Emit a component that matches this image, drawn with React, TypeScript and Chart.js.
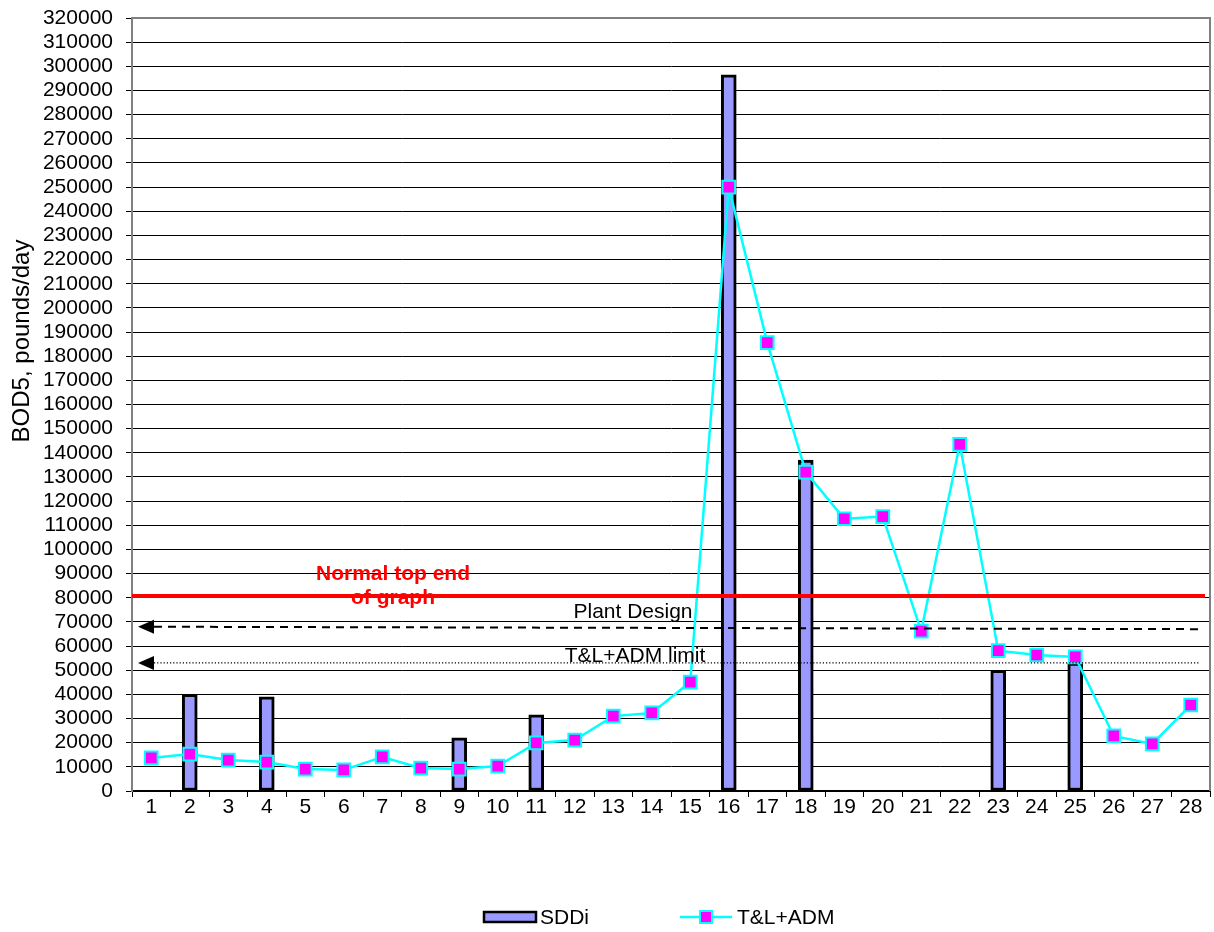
import React, { useEffect, useRef } from "react";
import { Chart, registerables } from "chart.js";

Chart.register(...registerables);

const categories = ["1","2","3","4","5","6","7","8","9","10","11","12","13","14","15","16","17","18","19","20","21","22","23","24","25","26","27","28"];

const sddiValues = [null, 40000, null, 39000, null, null, null, null, 22000, null, 31500, null, null, null, null, 296500, null, 137000, null, null, null, null, 50000, null, 53000, null, null, null];

const tlAdmValues = [13700, 15300, 12800, 12000, 9100, 8700, 14100, 9500, 9100, 10300, 19900, 21100, 31000, 32300, 45100, 250000, 185600, 132000, 112700, 113600, 66200, 143500, 58100, 56300, 55500, 22800, 19500, 35600];

const yMin = 0;
const yMax = 320000;
const yStep = 10000;

const normalTopValue = 80700;
const plantDesignLeftValue = 68000;
const plantDesignRightValue = 67000;
const tlAdmLimitValue = 53000;

const normalTopLabel = ["Normal top end", "of graph"];
const plantDesignLabel = "Plant Design";
const tlAdmLimitLabel = "T&L+ADM limit";
const yAxisTitle = "BOD5, pounds/day";

const FONT = "'Liberation Sans', Arial, sans-serif";
const FS = 21;

const noPadding = () => ({ left: 0, top: 0, right: 0, bottom: 0 });

const annotationPlugin = {
  id: "annotations",
  afterDraw(chart: any) {
    const ctx = chart.ctx;
    const ca = chart.chartArea;
    const y = chart.scales.y;
    ctx.save();

    // plot border (top/right)
    ctx.strokeStyle = "#808080";
    ctx.lineWidth = 2;
    ctx.beginPath();
    ctx.moveTo(ca.left, ca.top);
    ctx.lineTo(ca.right, ca.top);
    ctx.lineTo(ca.right, ca.bottom);
    ctx.stroke();

    // red normal top line
    const yr = y.getPixelForValue(normalTopValue);
    ctx.strokeStyle = "#FF0000";
    ctx.lineWidth = 4;
    ctx.beginPath();
    ctx.moveTo(ca.left, yr);
    ctx.lineTo(ca.right - 5, yr);
    ctx.stroke();

    // plant design dashed line
    const ypl = y.getPixelForValue(plantDesignLeftValue);
    const ypr = y.getPixelForValue(plantDesignRightValue);
    ctx.strokeStyle = "#000";
    ctx.lineWidth = 2;
    ctx.setLineDash([8, 6]);
    ctx.beginPath();
    ctx.moveTo(ca.left + 22, ypl);
    ctx.lineTo(ca.right - 10, ypr);
    ctx.stroke();

    // dotted limit
    const yl = y.getPixelForValue(tlAdmLimitValue);
    ctx.lineWidth = 1.2;
    ctx.setLineDash([1.2, 2]);
    ctx.beginPath();
    ctx.moveTo(ca.left + 22, yl);
    ctx.lineTo(ca.right - 10, yl);
    ctx.stroke();
    ctx.setLineDash([]);

    // arrows
    const arrow = (yy: number) => {
      ctx.fillStyle = "#000";
      ctx.beginPath();
      ctx.moveTo(ca.left + 6, yy);
      ctx.lineTo(ca.left + 22, yy - 7);
      ctx.lineTo(ca.left + 22, yy + 7);
      ctx.closePath();
      ctx.fill();
    };
    arrow(ypl);
    arrow(yl);

    // texts
    ctx.fillStyle = "#000";
    ctx.font = `${FS}px ${FONT}`;
    ctx.textAlign = "center";
    ctx.textBaseline = "alphabetic";
    ctx.fillText(plantDesignLabel, 633, ypl - 9);
    ctx.fillText(tlAdmLimitLabel, 635, yl - 1);

    ctx.fillStyle = "#FF0000";
    ctx.font = `bold ${FS}px ${FONT}`;
    ctx.textBaseline = "middle";
    ctx.fillText(normalTopLabel[0], 393, yr - 22);
    ctx.fillText(normalTopLabel[1], 393, yr + 2);

    // y title
    ctx.save();
    ctx.fillStyle = "#000";
    ctx.font = `24px ${FONT}`;
    ctx.translate(22, 341);
    ctx.rotate(-Math.PI / 2);
    ctx.textAlign = "center";
    ctx.textBaseline = "middle";
    ctx.fillText(yAxisTitle, 0, 0);
    ctx.restore();

    // legend
    const ly = 917;
    const bar = chart.data.datasets[1];
    const line = chart.data.datasets[0];
    ctx.fillStyle = bar.backgroundColor;
    ctx.fillRect(484, ly - 5, 52, 10);
    ctx.strokeStyle = "#000";
    ctx.lineWidth = 2.5;
    ctx.strokeRect(484, ly - 5, 52, 10);
    ctx.fillStyle = "#000";
    ctx.font = `${FS}px ${FONT}`;
    ctx.textAlign = "left";
    ctx.textBaseline = "middle";
    ctx.fillText(bar.label, 540, ly + 1);

    ctx.strokeStyle = line.borderColor;
    ctx.lineWidth = 2.5;
    ctx.beginPath();
    ctx.moveTo(680, ly);
    ctx.lineTo(732, ly);
    ctx.stroke();
    ctx.fillStyle = line.pointBackgroundColor;
    ctx.fillRect(700, ly - 6, 12, 12);
    ctx.strokeStyle = line.pointBorderColor;
    ctx.lineWidth = 2;
    ctx.strokeRect(700, ly - 6, 12, 12);
    ctx.fillStyle = "#000";
    ctx.fillText(line.label, 737, ly + 1);

    ctx.restore();
  },
};

export default function App() {
  const ref = useRef<HTMLCanvasElement>(null);

  useEffect(() => {
    document.body.style.margin = "0";
    const canvas = ref.current;
    if (!canvas) return;
    const chart = new Chart(canvas, {
      type: "bar",
      data: {
        labels: categories,
        datasets: [
          {
            type: "line",
            label: "T&L+ADM",
            data: tlAdmValues,
            borderColor: "#00FFFF",
            borderWidth: 2.5,
            backgroundColor: "#FF00FF",
            pointStyle: "rect",
            pointRadius: 9,
            pointBackgroundColor: "#FF00FF",
            pointBorderColor: "#00FFFF",
            pointBorderWidth: 2,
            tension: 0,
            order: 0,
          } as any,
          {
            type: "bar",
            label: "SDDi",
            data: sddiValues,
            backgroundColor: "#9999FF",
            borderColor: "#000000",
            borderWidth: 3,
            borderSkipped: false,
            barThickness: 15,
            order: 1,
          } as any,
        ],
      },
      options: {
        responsive: false,
        animation: false,
        devicePixelRatio: 1,
        layout: { autoPadding: false, padding: { left: 0, top: 18, right: 4, bottom: 0 } },
        plugins: {
          legend: { display: false },
          tooltip: { enabled: false },
          title: { display: false },
        },
        scales: {
          x: {
            offset: true,
            grid: {
              display: true,
              drawOnChartArea: false,
              drawTicks: true,
              tickLength: 6,
              color: "#000",
              offset: true,
            },
            border: { display: true, color: "#000", width: 2 },
            ticks: {
              color: "#000",
              font: { size: FS, family: FONT },
              padding: -2,
              autoSkip: false,
              maxRotation: 0,
            },
            afterFit: (scale: any) => {
              scale.height = 141;
              scale.paddingLeft = 0;
              scale.paddingRight = 0;
              scale.getPadding = noPadding;
            },
          },
          y: {
            min: yMin,
            max: yMax,
            grid: {
              color: "#000",
              lineWidth: 1,
              tickLength: 6,
              drawTicks: true,
            },
            border: { display: true, color: "#808080", width: 2 },
            ticks: {
              stepSize: yStep,
              autoSkip: false,
              color: "#000",
              font: { size: FS, family: FONT },
              padding: 13,
              callback: (v: any) => String(v),
            },
            afterFit: (scale: any) => {
              scale.width = 132;
              scale.paddingTop = 0;
              scale.paddingBottom = 0;
              scale.getPadding = noPadding;
            },
          },
        },
      },
      plugins: [annotationPlugin],
    });
    return () => chart.destroy();
  }, []);

  return (
    <canvas
      ref={ref}
      width={1214}
      height={932}
      style={{ display: "block", width: 1214, height: 932 }}
    />
  );
}
